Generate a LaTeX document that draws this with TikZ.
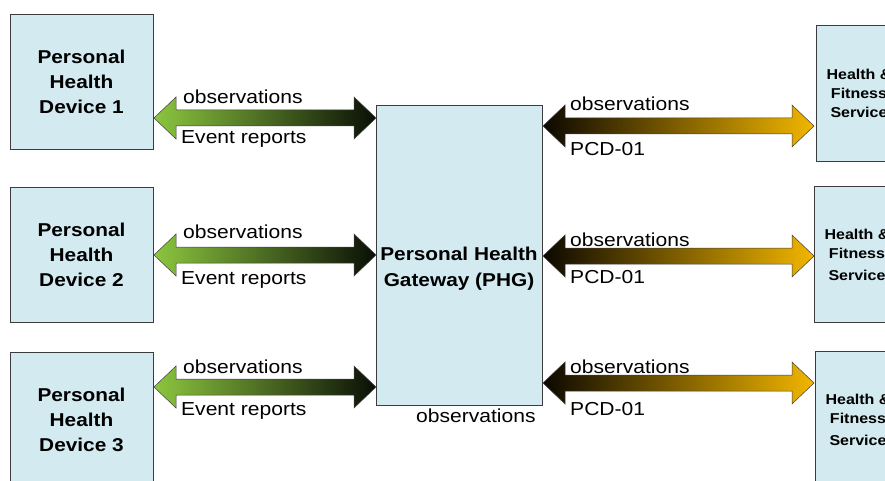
\documentclass[tikz,border=0pt]{standalone}
\usepackage{fontspec}
\setmainfont{Liberation Sans}[FakeStretch=1.12]
\usetikzlibrary{calc}
\definecolor{boxfill}{RGB}{210,234,240}
\definecolor{boxline}{RGB}{60,60,60}
\definecolor{gbright}{RGB}{140,198,63}
\definecolor{gdark}{RGB}{10,15,5}
\definecolor{goldc}{RGB}{242,182,0}
\definecolor{odark}{RGB}{12,8,0}
\newcommand\dblarrow[3]{%
  \shadedraw[#3] (#1) -- ++(22,-21) -- ++(0,13) -- ($(#2)+(-22,-8)$) -- ++(0,-13)
    -- (#2) -- ++(-22,21) -- ++(0,-13) -- ($(#1)+(22,8)$) -- ++(0,13) -- cycle;}
\tikzset{
  box/.style={draw=boxline, fill=boxfill, line width=0.8pt, inner sep=0pt, align=center},
  devbox/.style={box, minimum width=143, minimum height=135,
    font=\bfseries\fontsize{18.6}{25}\selectfont},
  svcbox/.style={box, minimum width=86, minimum height=136,
    font=\bfseries\fontsize{14.3}{19}\selectfont},
  lbl/.style={anchor=base west, inner sep=0pt, font=\fontsize{18.8}{22}\selectfont},
  greenarrow/.style={left color=gbright, right color=gdark, draw=black!75, line width=0.5pt},
  goldarrow/.style={left color=odark, right color=goldc, draw=black!75, line width=0.5pt}
}
\begin{document}
\begin{tikzpicture}[x=1pt, y=-1pt]
\useasboundingbox (0,0) rectangle (885,481);
\clip (0,0) rectangle (885,481);
% devices
\node[devbox] (d1) at (81.5,81.5) {Personal\\Health\\Device 1};
\node[devbox] (d2) at (81.5,254.5) {Personal\\Health\\Device 2};
\node[devbox] (d3) at (81.5,419.5) {Personal\\Health\\Device 3};
% gateway
\node[box, minimum width=166, minimum height=300] (phg) at (459,255) {};
\node[inner sep=0pt, align=center, font=\bfseries\fontsize{18.6}{26}\selectfont] (phgtext) at (459,269)
  {Personal Health\\Gateway (PHG)};
% services
\node[svcbox] (s1) at (859,93) {Health \&\\Fitness\\Service};
\node[svcbox] (s2) at (857,254.5) {Health \&\\Fitness\\[3pt]Service};
\node[svcbox] (s3) at (858,419.5) {Health \&\\Fitness\\[3pt]Service};
% arrow end points
\coordinate (la1) at (154,118); \coordinate (lb1) at (376,118);
\coordinate (la2) at (154,255); \coordinate (lb2) at (376,255);
\coordinate (la3) at (154,387); \coordinate (lb3) at (376,387);
\coordinate (ra1) at (543,126); \coordinate (rb1) at (814,126);
\coordinate (ra2) at (543,256); \coordinate (rb2) at (814,256);
\coordinate (ra3) at (543,383); \coordinate (rb3) at (814,383);
\dblarrow{la1}{lb1}{greenarrow}
\dblarrow{la2}{lb2}{greenarrow}
\dblarrow{la3}{lb3}{greenarrow}
\dblarrow{ra1}{rb1}{goldarrow}
\dblarrow{ra2}{rb2}{goldarrow}
\dblarrow{ra3}{rb3}{goldarrow}
% labels
\node[lbl] (o1) at (183,104) {observations};
\node[lbl] (e1) at (181,144) {Event reports};
\node[lbl] (o2) at (183,238) {observations};
\node[lbl] (e2) at (181,284) {Event reports};
\node[lbl] (o3) at (183,373) {observations};
\node[lbl] (e3) at (181,415) {Event reports};
\node[lbl] (p1) at (570,111) {observations};
\node[lbl] (c1) at (570,156) {PCD-01};
\node[lbl] (p2) at (570,246) {observations};
\node[lbl] (c2) at (570,283) {PCD-01};
\node[lbl] (p3) at (570,373) {observations};
\node[lbl] (c3) at (570,415) {PCD-01};
\node[lbl] (ob) at (416,422) {observations};
\end{tikzpicture}
\end{document}
